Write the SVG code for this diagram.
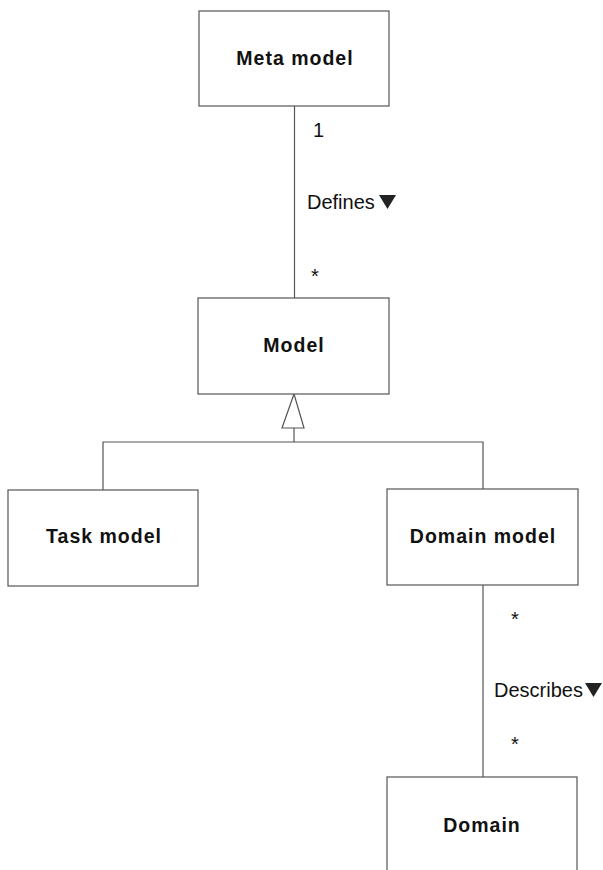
<svg xmlns="http://www.w3.org/2000/svg" width="603" height="870" viewBox="0 0 603 870">
<style>
.box{fill:#fff;stroke:#555;stroke-width:1.2}
.title{font-family:"Liberation Sans",Arial,sans-serif;font-weight:bold;font-size:19.5px;letter-spacing:1px;fill:#111;text-anchor:middle}
.lbl{font-family:"Liberation Sans",Arial,sans-serif;font-size:20px;fill:#111}
.ln{fill:none;stroke:#555;stroke-width:1.2}
.tri{fill:#222}
</style>
<rect width="603" height="870" fill="#fff"/>
<g id="connectors">
<line class="ln" x1="294.5" y1="106" x2="294.5" y2="298"/>
<polygon class="ln" points="294,394 282,428 304,428" fill="#fff"/>
<line class="ln" x1="294" y1="428" x2="294" y2="442"/>
<polyline class="ln" points="103,490 103,442 483,442 483,489"/>
<line class="ln" x1="483" y1="585" x2="483" y2="777"/>
<text class="lbl" x="313" y="137">1</text>
<text class="lbl" x="307" y="209">Defines</text>
<polygon class="tri" points="379,195 396,195 387.5,209"/>
<text class="lbl" x="311" y="283">*</text>
<text class="lbl" x="511" y="626">*</text>
<text class="lbl" x="494" y="697">Describes</text>
<polygon class="tri" points="585,683 602,683 593.5,697"/>
<text class="lbl" x="511" y="751">*</text>
</g>
<g id="meta-model">
<rect class="box" x="199" y="11" width="190" height="95"/>
<text class="title" x="295" y="65">Meta model</text>
</g>
<g id="model">
<rect class="box" x="198" y="298" width="191" height="96"/>
<text class="title" x="294" y="352">Model</text>
</g>
<g id="task-model">
<rect class="box" x="8" y="490" width="190" height="96"/>
<text class="title" x="104" y="543">Task model</text>
</g>
<g id="domain-model">
<rect class="box" x="387" y="489" width="191" height="96"/>
<text class="title" x="483" y="543">Domain model</text>
</g>
<g id="domain">
<rect class="box" x="387" y="777" width="190" height="96"/>
<text class="title" x="482" y="832">Domain</text>
</g>
</svg>
